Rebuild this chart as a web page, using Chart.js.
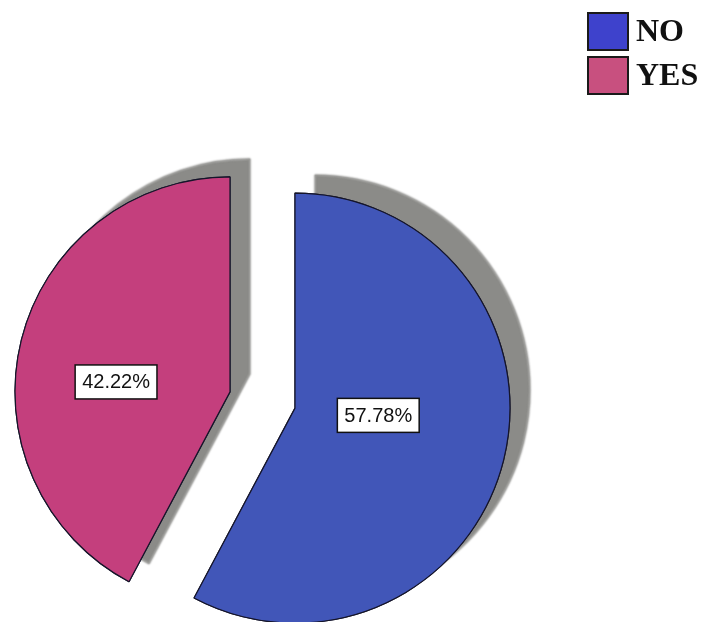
<!DOCTYPE html>
<html>
<head>
<meta charset="utf-8">
<script src="https://cdn.jsdelivr.net/npm/chart.js@4.4.1/dist/chart.umd.min.js"></script>
<style>
  html, body { margin: 0; padding: 0; background: #ffffff; }
  #wrap { width: 710px; height: 622px; position: relative; }
</style>
</head>
<body>
<div id="wrap"><canvas id="c" width="710" height="622"></canvas></div>
<script>
// ---- data ----
const categories = ['NO', 'YES'];
const percentages = [57.78, 42.22];
const valueLabels = ['57.78%', '42.22%'];

// ---- styles ----
const sliceColors = ['#4156B8', '#C43F7D'];
const legendColors = ['#3E42CC', '#C8507F'];
const EXPLODE = 33.5;

const explodePlugin = {
  id: 'explodeShadow',
  beforeDatasetDraw(chart, args) {
    const ctx = chart.ctx;
    const meta = args.meta;
    // pass 1: shadows
    meta.data.forEach((arc) => {
      const mid = (arc.startAngle + arc.endAngle) / 2;
      ctx.save();
      ctx.translate(Math.cos(mid) * EXPLODE, Math.sin(mid) * EXPLODE);
      ctx.shadowColor = '#8b8b88';
      ctx.shadowOffsetX = 20;
      ctx.shadowOffsetY = -18;
      ctx.shadowBlur = 2;
      arc.draw(ctx);
      ctx.restore();
    });
    // pass 2: slices on top
    meta.data.forEach((arc) => {
      const mid = (arc.startAngle + arc.endAngle) / 2;
      ctx.save();
      ctx.translate(Math.cos(mid) * EXPLODE, Math.sin(mid) * EXPLODE);
      arc.draw(ctx);
      ctx.restore();
    });
    return false;
  },
  afterDatasetsDraw(chart) {
    const ctx = chart.ctx;
    const meta = chart.getDatasetMeta(0);
    ctx.save();
    ctx.font = '20px "Liberation Sans", Arial, sans-serif';
    ctx.textAlign = 'center';
    ctx.textBaseline = 'middle';
    meta.data.forEach((arc, i) => {
      const mid = (arc.startAngle + arc.endAngle) / 2;
      const alpha = arc.endAngle - arc.startAngle;
      const r = arc.outerRadius;
      const cd = 1.12 * (2 * r * Math.sin(alpha / 2)) / (1.5 * alpha);
      const ax = arc.x + Math.cos(mid) * EXPLODE;
      const ay = arc.y + Math.sin(mid) * EXPLODE;
      const lx = ax + Math.cos(mid) * cd;
      const ly = ay + Math.sin(mid) * cd * 0.35;
      const txt = valueLabels[i];
      const w = ctx.measureText(txt).width + 14;
      const h = 34;
      ctx.fillStyle = '#ffffff';
      ctx.fillRect(lx - w / 2, ly - h / 2, w, h);
      ctx.lineWidth = 1.5;
      ctx.strokeStyle = '#111111';
      ctx.strokeRect(lx - w / 2, ly - h / 2, w, h);
      ctx.fillStyle = '#111111';
      ctx.fillText(txt, lx, ly + 1);
    });
    ctx.restore();
  },
  afterDraw(chart) {
    const ctx = chart.ctx;
    ctx.save();
    ctx.font = 'bold 32px "Liberation Serif", "Times New Roman", serif';
    ctx.textAlign = 'left';
    ctx.textBaseline = 'middle';
    categories.forEach((name, i) => {
      const y = 13 + i * 44;
      ctx.fillStyle = legendColors[i];
      ctx.fillRect(588, y, 40, 37);
      ctx.lineWidth = 2;
      ctx.strokeStyle = '#1a1a1a';
      ctx.strokeRect(588, y, 40, 37);
      ctx.fillStyle = '#111111';
      ctx.fillText(name, 636, y + 20);
    });
    ctx.restore();
  }
};

new Chart(document.getElementById('c'), {
  type: 'pie',
  data: {
    labels: categories,
    datasets: [{
      data: percentages,
      backgroundColor: sliceColors,
      borderColor: '#15152a',
      borderWidth: 1.2
    }]
  },
  options: {
    responsive: false,
    animation: false,
    radius: 215,
    layout: { padding: { left: 0, right: 185, top: 178, bottom: 0 } },
    plugins: {
      legend: { display: false },
      tooltip: { enabled: false }
    },
    events: []
  },
  plugins: [explodePlugin]
});
</script>
</body>
</html>
